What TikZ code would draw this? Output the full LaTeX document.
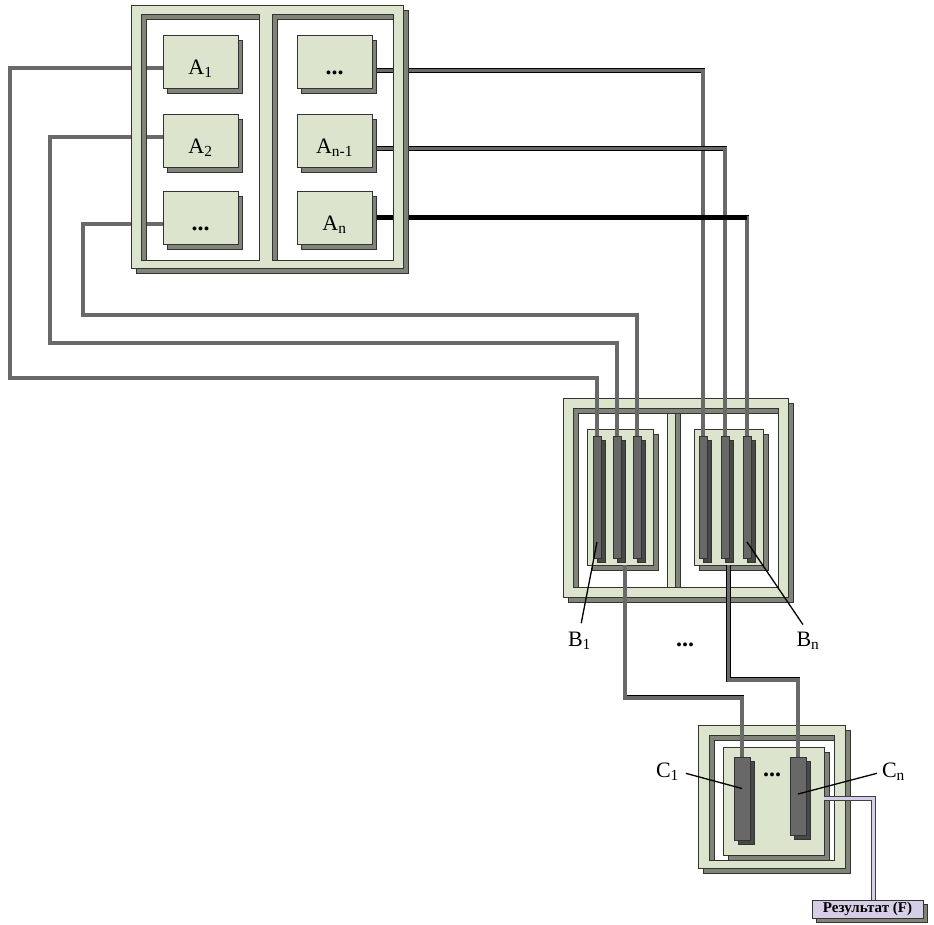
\documentclass[tikz,border=0pt]{standalone}
\usepackage{fontspec}
\setmainfont{Liberation Serif}
\usetikzlibrary{positioning,shadows,calc}
\definecolor{framegreen}{RGB}{221,228,206}
\definecolor{sidegray}{RGB}{128,132,120}
\definecolor{bargray}{RGB}{104,104,104}
\definecolor{barside}{RGB}{72,72,72}
\definecolor{wiregray}{RGB}{105,105,105}
\definecolor{resviolet}{RGB}{214,205,230}
\pgfdeclarelayer{back}
\pgfdeclarelayer{mid}
\pgfsetlayers{back,mid,main}
\tikzset{
  wire/.style={draw=black, line width=0.6pt, double=wiregray, double distance=3.6pt},
  reswire/.style={draw=black!75, line width=0.6pt, double=resviolet, double distance=3.6pt},
  frame/.style={draw=black!80, fill=framegreen, even odd rule, line width=0.5pt},
  frameshade/.style={draw=black!80, fill=sidegray, even odd rule, line width=0.5pt, shift={(5pt,-5pt)}},
  abox/.style={draw=black!80, fill=framegreen, minimum width=75pt, minimum height=53pt, inner sep=0pt, text height=25pt, text depth=0pt, font=\fontsize{22}{25}\selectfont, general shadow={draw=black!80, fill=sidegray, shadow xshift=4pt, shadow yshift=-5pt}},
  panel/.style={draw=black!80, fill=framegreen, inner sep=0pt, general shadow={draw=black!80, fill=sidegray, shadow xshift=5pt, shadow yshift=-5pt}},
  bar/.style={draw=black!80, fill=bargray, inner sep=0pt, general shadow={draw=black!80, fill=barside, shadow xshift=4pt, shadow yshift=-4pt}},
  tag/.style={font=\fontsize{22}{25}\selectfont, inner sep=0pt},
  dots/.style={font=\fontsize{24}{27}\selectfont\bfseries, inner sep=0pt},
  pointer/.style={draw=black, line width=1.3pt},
  resbox/.style={draw=black!80, fill=resviolet, minimum width=111pt, minimum height=18pt, inner sep=0pt, font=\fontsize{15}{17}\selectfont\bfseries, general shadow={draw=black!80, fill=sidegray, shadow xshift=4pt, shadow yshift=-4pt}}
}

\begin{document}
\begin{tikzpicture}[x=1pt, y=-1pt]
  \useasboundingbox (0,0) rectangle (934,924);
  \begin{pgfonlayer}{back}
    \filldraw[frameshade] (563,398) rectangle (788,597) (573,408) rectangle (778,587);
    \filldraw[frame] (563,398) rectangle (788,597) (573,408) rectangle (778,587);
    \filldraw[draw=black!80, fill=sidegray] (667,413) rectangle (680,587);
    \filldraw[draw=black!80, fill=framegreen] (667,413) rectangle (675,587);
    \filldraw[frameshade] (698,725) rectangle (845,868) (709,735) rectangle (834,860);
    \filldraw[frame] (698,725) rectangle (845,868) (709,735) rectangle (834,860);
    \node[panel, minimum width=66pt, minimum height=136pt] (bp1) at (620,497) {};
    \node[panel, minimum width=69pt, minimum height=136pt] (bp2) at (728.5,497) {};
    \node[panel, minimum width=101pt, minimum height=108pt] (cp) at (773.5,801) {};
  \end{pgfonlayer}

  \filldraw[frameshade] (131,5) rectangle (403,268) (141,14) rectangle (259,260) (272,14) rectangle (393,260);
  \filldraw[frame] (131,5) rectangle (403,268) (141,14) rectangle (259,260) (272,14) rectangle (393,260);

  \node[abox] (a1) at (200.5,61.5) {A\textsubscript{1}};
  \node[abox] (a2) at (200.5,141) {A\textsubscript{2}};
  \node[abox, font=\fontsize{24}{27}\selectfont\bfseries] (adots) at (200.5,217.5) {...};
  \node[abox, font=\fontsize{24}{27}\selectfont\bfseries] (adotsr) at (334.5,61.5) {...};
  \node[abox] (an1) at (334.5,141) {A\textsubscript{n-1}};
  \node[abox] (an) at (334.5,217.5) {A\textsubscript{n}};

  \node[bar, minimum width=8pt, minimum height=122pt] (b1) at (597,497) {};
  \node[bar, minimum width=8pt, minimum height=122pt] (b2) at (617,497) {};
  \node[bar, minimum width=8pt, minimum height=122pt] (b3) at (637,497) {};
  \node[bar, minimum width=8pt, minimum height=122pt] (b4) at (703,497) {};
  \node[bar, minimum width=8pt, minimum height=122pt] (b5) at (725,497) {};
  \node[bar, minimum width=8pt, minimum height=122pt] (b6) at (747,497) {};
  \node[bar, minimum width=16pt, minimum height=83pt] (c1) at (742,798.5) {};
  \node[bar, minimum width=16pt, minimum height=78pt] (cn) at (798,796) {};

  \node[resbox] (res) at (867.5,909) {Результат (F)};

  \begin{pgfonlayer}{mid}
    \draw[wire] ([yshift=-6.5pt]a1.west) -| (10,378) -| (b1.north);
    \draw[wire] ([yshift=4pt]a2.west) -| (50,343) -| (b2.north);
    \draw[wire] ([yshift=-6.5pt]adots.west) -| (83,315) -| (b3.north);
    \draw[wire] ([yshift=-9pt]adotsr.east) -| (b4.north);
    \draw[wire] ([yshift=-7.5pt]an1.east) -| (b5.north);
    \draw[wire] (an.east) -| (b6.north);
    \draw[wire, double=black] (an.east) -- (an.east -| b6.north);
    \draw[wire] ([xshift=5pt]bp1.south) |- ([yshift=59pt]c1.north) -- (c1.north);
    \draw[wire] (bp2.south) |- ([yshift=77pt]cn.north) -- (cn.north);
    \draw[reswire] ([yshift=2.5pt]cp.east) -| ([xshift=6pt]res.north);
  \end{pgfonlayer}

  \node[tag] (lb1) at (579.5,641) {B\textsubscript{1}};
  \node[tag] (lbn) at (808,641) {B\textsubscript{n}};
  \node[dots] (bdots) at (685,645) {...};
  \node[tag] (lc1) at (667.5,771.5) {C\textsubscript{1}};
  \node[tag] (lcn) at (893.5,772) {C\textsubscript{n}};
  \node[dots] (cdots) at (772,775) {...};

  \draw[pointer, shorten >=9pt] ([yshift=-45pt]b1.center) -- (lb1.north);
  \draw[pointer, shorten >=9pt] ([yshift=-45pt]b6.center) -- (lbn.north);
  \draw[pointer, shorten <=7pt] (lc1.east) -- ([yshift=10pt]c1.center);
  \draw[pointer, shorten <=5pt] (lcn.west) -- ([yshift=2pt]cn.center);
\end{tikzpicture}
\end{document}
